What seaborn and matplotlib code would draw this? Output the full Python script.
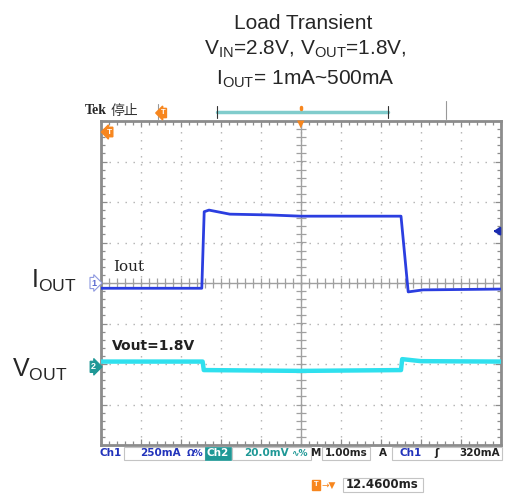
import matplotlib
matplotlib.use('Agg')
import matplotlib.pyplot as plt
import seaborn as sns
import numpy as np
import pandas as pd
from matplotlib.patches import Rectangle
from matplotlib.lines import Line2D
from matplotlib.ticker import MultipleLocator
from matplotlib.transforms import blended_transform_factory

# Traces, in screen divisions (1.00 ms/div horizontally)
time_iout = [-5.0, -2.48, -2.42, -2.30, -1.78, -0.78, 0.0, 2.50, 2.68, 3.05, 5.0]
iout_div = [-0.13, -0.13, 1.76, 1.80, 1.70, 1.68, 1.65, 1.65, -0.22, -0.17, -0.15]

time_vout = [-5.0, -2.46, -2.43, 0.0, 2.50, 2.53, 3.0, 5.0]
vout_div = [-1.94, -1.94, -2.15, -2.17, -2.15, -1.88, -1.93, -1.94]

# channel ground markers and trigger level (div)
ch1_ref = 0.0
ch2_ref = -2.07
ch1_scale_ma = 250
trig_level_ma = 320

status_ch1 = "250mA"
status_ch2 = "20.0mV"
status_time = "1.00ms"
status_trig = "320mA"
trig_pos = "12.4600ms"

iout_df = pd.DataFrame({'t': time_iout, 'y': iout_div})
vout_df = pd.DataFrame({'t': time_vout, 'y': vout_div})

sns.set_theme(style='white')
plt.rcParams['font.family'] = ['Liberation Sans', 'DejaVu Sans', 'Noto Sans CJK SC']
plt.rcParams['mathtext.fontset'] = 'custom'
plt.rcParams['mathtext.rm'] = 'Liberation Sans'

W, H = 507, 496
BLUE = '#2b3ee0'
CYAN = '#2fe0ee'
TEAL = '#1f9896'
ORANGE = '#f7861e'
GRAY = '#8c8c8c'


def fx(x):
    return x / W


def fy(y):
    return 1 - y / H


def txt(x, y, s, **kw):
    fig.text(fx(x), fy(y), s, **kw)


def box(x0, y0, x1, y1, **kw):
    fig.add_artist(Rectangle((fx(x0), fy(y1)), (x1 - x0) / W, (y1 - y0) / H,
                             transform=fig.transFigure, **kw))


def seg(x0, y0, x1, y1, **kw):
    fig.add_artist(Line2D([fx(x0), fx(x1)], [fy(y0), fy(y1)], transform=fig.transFigure, **kw))


fig = plt.figure(figsize=(W / 100, H / 100), dpi=100)
ax = fig.add_axes([101 / W, 1 - 445 / H, 400 / W, 324 / H])

# traces
sns.lineplot(data=vout_df, x='t', y='y', ax=ax, color=CYAN, lw=3.2, estimator=None, sort=False, zorder=5)
sns.lineplot(data=iout_df, x='t', y='y', ax=ax, color=BLUE, lw=2.0, estimator=None, sort=False, zorder=6)

ax.set_xlim(-5, 5)
ax.set_ylim(-4, 4)
ax.set_xlabel('')
ax.set_ylabel('')
ax.xaxis.set_major_locator(MultipleLocator(1))
ax.yaxis.set_major_locator(MultipleLocator(1))
ax.xaxis.set_minor_locator(MultipleLocator(0.2))
ax.yaxis.set_minor_locator(MultipleLocator(0.2))
ax.tick_params(which='both', direction='in', top=True, right=True, bottom=True, left=True,
               labelbottom=False, labelleft=False, color=GRAY, width=0.9)
ax.tick_params(which='major', length=4)
ax.tick_params(which='minor', length=3)
ax.grid(True, which='major', color='#b0b0b0', linestyle=(0, (1, 4.76)), lw=1.0)
for sp in ax.spines.values():
    sp.set_color(GRAY)
    sp.set_linewidth(2)

# center cross with tick marks
ax.axhline(0, color='#a0a0a0', lw=1.0, zorder=1)
ax.axvline(0, color='#a0a0a0', lw=1.0, zorder=1)
xm = np.arange(-5, 5.01, 0.2)
ym = np.arange(-4, 4.01, 0.2)
ax.plot(xm, np.zeros_like(xm), ls='none', marker='|', ms=7, mew=0.9, color='#a0a0a0', zorder=1)
ax.plot(np.zeros_like(ym), ym, ls='none', marker='_', ms=7, mew=0.9, color='#a0a0a0', zorder=1)

# trace labels
ax.text(-4.7, 0.3, "Iout", fontsize=11, family='DejaVu Serif', color='#222222')
ax.text(-4.72, -1.65, "Vout=1.8V", fontsize=10, fontweight='bold', family='DejaVu Sans', color='#222222')

# channel markers at the left edge
blend = blended_transform_factory(ax.transAxes, ax.transData)
ax.text(-0.012, ch1_ref, "1", transform=blend, ha='right', va='center', fontsize=6.5,
        color='#5a6ad0', fontweight='bold',
        bbox=dict(boxstyle='rarrow,pad=0.12', fc='white', ec='#8f9ae0', lw=0.8), clip_on=False)
ax.text(-0.012, ch2_ref, "2", transform=blend, ha='right', va='center', fontsize=6.5,
        color='white', fontweight='bold',
        bbox=dict(boxstyle='rarrow,pad=0.12', fc=TEAL, ec=TEAL, lw=0.8), clip_on=False)

# trigger level arrow on the right edge
lvl = trig_level_ma / ch1_scale_ma
ax.annotate('', xy=(4.74, lvl), xytext=(4.96, lvl), annotation_clip=False,
            arrowprops=dict(arrowstyle='-|>,head_width=0.2,head_length=0.3', color='#1a2bb0', lw=1.5))

# titles
txt(303, 29, "Load Transient", ha='center', va='baseline', fontsize=15)
txt(305, 54, r"V$_{\mathregular{IN}}$=2.8V, V$_{\mathregular{OUT}}$=1.8V,", ha='center', va='baseline', fontsize=15)
txt(305, 84, r"I$_{\mathregular{OUT}}$= 1mA~500mA", ha='center', va='baseline', fontsize=15)

txt(31, 288, r"I$_{\mathregular{OUT}}$", ha='left', va='baseline', fontsize=18)
txt(12, 377, r"V$_{\mathregular{OUT}}$", ha='left', va='baseline', fontsize=18)

# scope header
txt(85, 111, "Tek", ha='left', va='center', fontsize=10, fontweight='bold', family='Liberation Serif')
txt(111, 111, "停止", ha='left', va='center', fontsize=10, family='Noto Sans CJK SC', color='#333333')
seg(158, 104, 158, 119, color='#999999', lw=0.8)
txt(163, 113, "T", ha='center', va='center', fontsize=5.5, color='white', fontweight='bold',
    bbox=dict(boxstyle='larrow,pad=0.15', fc=ORANGE, ec=ORANGE))
seg(217, 112, 388, 112, color='#80cccc', lw=2.5)
seg(217, 106, 217, 118, color='#333333', lw=0.8)
seg(388, 106, 388, 118, color='#333333', lw=0.8)
seg(301, 106.5, 301, 108.5, color=ORANGE, lw=2.5)
seg(446, 101, 446, 119, color='#999999', lw=0.8)
txt(301, 124, "▼", ha='center', va='center', fontsize=7, color=ORANGE, family='DejaVu Sans')
txt(109, 132, "T", ha='center', va='center', fontsize=6, color='white', fontweight='bold',
    bbox=dict(boxstyle='larrow,pad=0.15', fc=ORANGE, ec=ORANGE))

# status bar
sb = dict(va='center', fontsize=7.5, fontweight='bold', family='DejaVu Sans')
txt(100, 453, "Ch1", color='#2233bb', ha='left', **sb)
box(124, 447, 205, 460, fill=False, ec='#c4c4c4', lw=0.8)
txt(140, 453, status_ch1, color='#2233bb', ha='left', **sb)
txt(187, 453, "Ω%", color='#2233bb', ha='left', va='center', fontsize=6.5, fontweight='bold', family='DejaVu Sans')
box(205, 447, 231, 460, fc=TEAL, ec=TEAL, lw=0.5)
txt(218, 453, "Ch2", color='white', ha='center', **sb)
box(232, 447, 311, 460, fill=False, ec='#c4c4c4', lw=0.8)
txt(244, 453, status_ch2, color=TEAL, ha='left', **sb)
txt(291, 453, "∿%", color=TEAL, ha='left', va='center', fontsize=6.5, fontweight='bold', family='DejaVu Sans')
txt(316, 453, "M", color='#222222', ha='center', **sb)
box(322, 447, 370, 460, fill=False, ec='#c4c4c4', lw=0.8)
txt(346, 453, status_time, color='#222222', ha='center', **sb)
txt(383, 453, "A", color='#222222', ha='center', **sb)
box(392, 447, 502, 460, fill=False, ec='#c4c4c4', lw=0.8)
txt(399, 453, "Ch1", color='#2233bb', ha='left', **sb)
txt(436, 453, "ʃ", color='#222222', ha='center', **sb)
txt(500, 453, status_trig, color='#222222', ha='right', **sb)

# trigger position readout
txt(316, 485, "T", ha='center', va='center', fontsize=5.5, color='white', fontweight='bold',
    bbox=dict(boxstyle='square,pad=0.2', fc=ORANGE, ec=ORANGE))
txt(322, 485, "→▼", ha='left', va='center', fontsize=6.5, color=ORANGE, family='DejaVu Sans')
box(343, 478, 423, 492, fill=False, ec='#c4c4c4', lw=0.8)
txt(346, 485, trig_pos, ha='left', va='center', fontsize=8.5, fontweight='bold',
    family='DejaVu Sans', color='#222222')

fig.savefig('out.png', dpi=100)
